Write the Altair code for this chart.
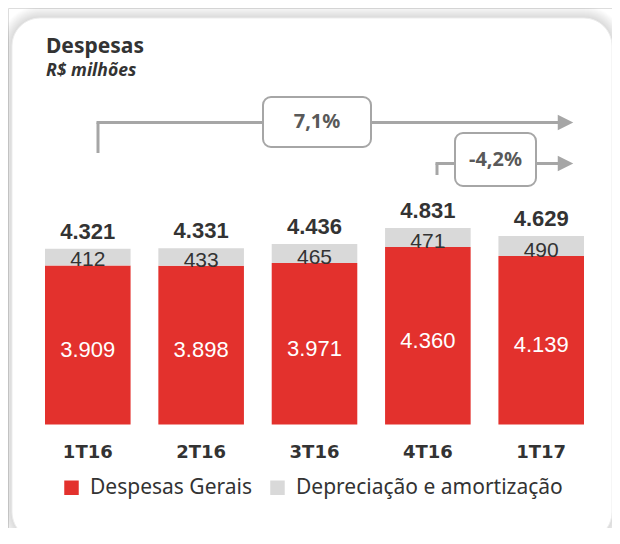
import altair as alt
import pandas as pd

# ---- data ----
categories = ["1T16", "2T16", "3T16", "4T16", "1T17"]
despesas_gerais = [3909, 3898, 3971, 4360, 4139]
depreciacao = [412, 433, 465, 471, 490]
totais = [4321, 4331, 4436, 4831, 4629]
series = ["Despesas Gerais", "Depreciação e amortização"]
growth_labels = ["7,1%", "-4,2%"]

title_text = "Despesas"
subtitle_text = "R$ milhões"

RED = "#E3312D"
GRAY = "#D9D9D9"
TXT = "#333333"
ARROW = "#A6A6A6"


def fmt(v):
    return f"{v:,}".replace(",", ".")


long_rows = []
for c, g, d in zip(categories, despesas_gerais, depreciacao):
    long_rows.append({"cat": c, "serie": series[0], "valor": g, "ord": 0})
    long_rows.append({"cat": c, "serie": series[1], "valor": d, "ord": 1})
long_df = pd.DataFrame(long_rows)

wide_df = pd.DataFrame({
    "cat": categories,
    "gerais": despesas_gerais,
    "deprec": depreciacao,
    "total": totais,
    "gerais_mid": [g / 2 for g in despesas_gerais],
    "zero": [0] * len(categories),
    "total_lbl": [fmt(v) for v in totais],
    "gerais_lbl": [fmt(v) for v in despesas_gerais],
    "deprec_lbl": [fmt(v) for v in depreciacao],
})

one = pd.DataFrame({"k": [0]})

W, H = 604, 520

xscale = alt.Scale(domain=categories, range=[37, 576], paddingInner=0.245, paddingOuter=0)
yscale = alt.Scale(domain=[0, 10000], range=[416.5, 9.5])
X = alt.X("cat:N", scale=xscale, axis=None, sort=categories)

# ---- card with soft shadow ----
card_layers = []
for i in range(12, 0, -1):
    card_layers.append(
        alt.Chart(one).mark_rect(cornerRadius=28 + i, fill="#000000", opacity=0.011).encode(
            x=alt.value(4 - i), x2=alt.value(604 + i), y=alt.value(10 - i), y2=alt.value(532 + i)
        )
    )
card = alt.Chart(one).mark_rect(cornerRadius=28, fill="white", stroke="#EDEDED", strokeWidth=1).encode(
    x=alt.value(4), x2=alt.value(604), y=alt.value(10), y2=alt.value(532)
)

title = alt.Chart(one).mark_text(
    text=title_text, font="Noto Sans", fontWeight="bold", fontSize=21, color=TXT,
    align="left", baseline="alphabetic"
).encode(x=alt.value(38), y=alt.value(45))
subtitle = alt.Chart(one).mark_text(
    text=subtitle_text, font="Noto Sans", fontWeight="bold", fontStyle="italic", fontSize=17.5, color=TXT,
    align="left", baseline="alphabetic"
).encode(x=alt.value(38), y=alt.value(68))

# ---- bars ----
bars = alt.Chart(long_df).mark_bar().encode(
    x=X,
    y=alt.Y("valor:Q", stack="zero", scale=yscale, axis=None),
    color=alt.Color(
        "serie:N",
        scale=alt.Scale(domain=series, range=[RED, GRAY]),
        sort=series,
        legend=alt.Legend(
            title=None, orient="none", legendX=53, legendY=469, direction="horizontal",
            symbolType="square", symbolSize=210, symbolStrokeWidth=0,
            labelFont="Noto Sans", labelFontSize=21, labelColor=TXT, labelOffset=8,
            labelLimit=0, columnPadding=15, padding=0,
        ),
    ),
    order=alt.Order("ord:Q", sort="ascending"),
)

total_text = alt.Chart(wide_df).mark_text(
    font="Liberation Sans", fontWeight="bold", fontSize=22, color=TXT, baseline="alphabetic", dy=-10
).encode(x=X, y=alt.Y("total:Q", scale=yscale), text="total_lbl:N")

deprec_text = alt.Chart(wide_df).mark_text(
    font="Liberation Sans", fontSize=21, color=TXT, baseline="alphabetic", dy=1
).encode(x=X, y=alt.Y("gerais:Q", scale=yscale), text="deprec_lbl:N")

gerais_text = alt.Chart(wide_df).mark_text(
    font="Liberation Sans", fontSize=22, color="white", baseline="alphabetic", dy=12
).encode(x=X, y=alt.Y("gerais_mid:Q", scale=yscale), text="gerais_lbl:N")

cat_text = alt.Chart(wide_df).mark_text(
    font="DejaVu Sans", fontWeight="bold", fontSize=18, color=TXT, baseline="alphabetic", dy=33.5
).encode(x=X, y=alt.Y("zero:Q", scale=yscale), text="cat:N")

# ---- growth arrows ----
def rule(x1, x2, y1, y2):
    return alt.Chart(one).mark_rule(color=ARROW, strokeWidth=3).encode(
        x=alt.value(x1), x2=alt.value(x2), y=alt.value(y1), y2=alt.value(y2)
    )


def head(x, y):
    return alt.Chart(one).mark_point(
        shape="M-1,-1L1,0L-1,1Z", filled=True, fill=ARROW, opacity=1, size=240, strokeWidth=0
    ).encode(x=alt.value(x), y=alt.value(y))


def box(x1, x2, y1, y2, label, fs):
    r = alt.Chart(one).mark_rect(cornerRadius=8, fill="white", stroke=ARROW, strokeWidth=2).encode(
        x=alt.value(x1), x2=alt.value(x2), y=alt.value(y1), y2=alt.value(y2)
    )
    t = alt.Chart(one).mark_text(
        text=label, font="Noto Sans", fontWeight="bold", fontSize=fs, color="#595959",
        align="center", baseline="middle"
    ).encode(x=alt.value((x1 + x2) / 2), y=alt.value((y1 + y2) / 2))
    return [r, t]


ann = [
    rule(90, 90, 114.5, 145),
    rule(88.5, 551, 114.5, 114.5),
    head(557.5, 114.5),
    *box(255, 363, 89, 139, growth_labels[0], 20),
    rule(429, 429, 155.5, 167),
    rule(427.5, 551, 155.5, 155.5),
    head(557.5, 155.5),
    *box(447, 528, 125, 178, growth_labels[1], 20),
]

chart = alt.layer(
    *card_layers, card, title, subtitle, bars, deprec_text, total_text, gerais_text, cat_text, *ann
).properties(
    width=W, height=H, padding=0, autosize=alt.AutoSizeParams(type="none")
).configure_view(stroke=None).configure(background="white")

chart.save("out.html", embed_options={"renderer": "svg", "actions": False})
